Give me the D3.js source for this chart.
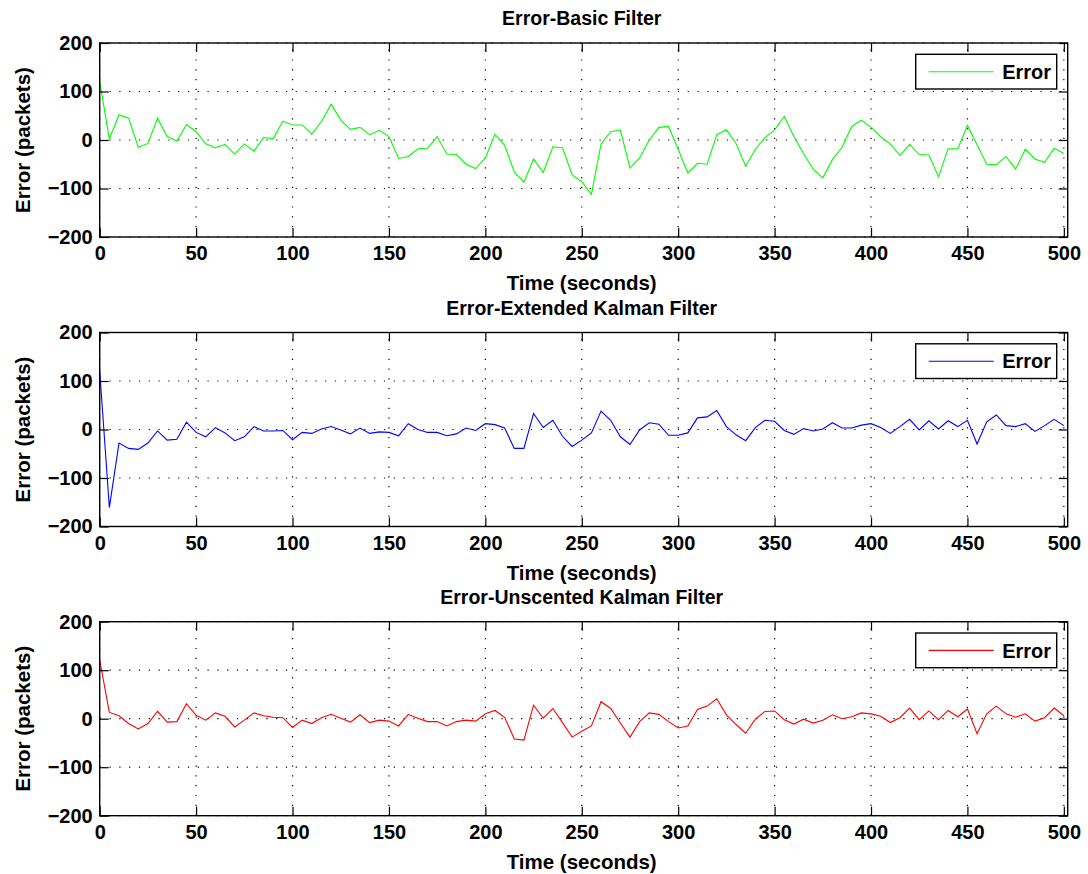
<!DOCTYPE html>
<html>
<head>
<meta charset="utf-8">
<script src="https://cdn.jsdelivr.net/npm/d3@7"></script>
<style>
  html, body { margin: 0; padding: 0; background: #ffffff; }
  svg { display: block; }
  text { font-family: "Liberation Sans", Arial, Helvetica, sans-serif; font-weight: bold; fill: #000; }
</style>
</head>
<body>
<svg id="fig" width="1088" height="874"></svg>
<script>
// Sample times (seconds)
const timeSec = [
  0, 5, 10, 15, 20, 25, 30, 35, 40, 45,
  50, 55, 60, 65, 70, 75, 80, 85, 90, 95,
  100, 105, 110, 115, 120, 125, 130, 135, 140, 145,
  150, 155, 160, 165, 170, 175, 180, 185, 190, 195,
  200, 205, 210, 215, 220, 225, 230, 235, 240, 245,
  250, 255, 260, 265, 270, 275, 280, 285, 290, 295,
  300, 305, 310, 315, 320, 325, 330, 335, 340, 345,
  350, 355, 360, 365, 370, 375, 380, 385, 390, 395,
  400, 405, 410, 415, 420, 425, 430, 435, 440, 445,
  450, 455, 460, 465, 470, 475, 480, 485, 490, 495,
  500
];

// Estimation error (packets) of each filter
const basicError = [
  121, 2, 52, 45, -15, -7, 45, 7, -2, 32,
  17, -8, -16, -9, -29, -8, -23, 5, 3, 39,
  31, 31, 12, 38, 74, 41, 22, 26, 11, 20,
  7, -38, -34, -18, -17, 7, -29, -30, -50, -59,
  -37, 12, -11, -66, -87, -39, -67, -14, -16, -72,
  -86, -112, -8, 17, 21, -58, -37, 0, 26, 28,
  -19, -68, -48, -50, 11, 21, -7, -54, -19, 5,
  21, 49, 7, -28, -60, -78, -40, -15, 28, 41,
  26, 7, -8, -32, -9, -30, -31, -76, -18, -18,
  30, -10, -50, -51, -34, -60, -19, -39, -46, -17,
  -28
];

const ekfError = [
  121, -161, -28, -39, -41, -28, -3, -22, -20, 15,
  -6, -15, 4, -7, -23, -15, 6, -3, -3, -2,
  -21, -6, -8, 1, 6, -1, -9, 3, -8, -5,
  -6, -13, 12, 0, -6, -6, -13, -9, 3, -2,
  12, 10, 3, -39, -39, 33, 4, 19, -14, -35,
  -22, -7, 38, 19, -15, -31, -1, 14, 11, -12,
  -12, -7, 24, 26, 39, 6, -11, -23, 4, 19,
  17, -2, -10, 2, -3, 1, 14, 3, 3, 9,
  12, 4, -8, 6, 21, -1, 18, 1, 18, 6,
  19, -30, 16, 30, 8, 6, 12, -4, 8, 21,
  8
];

const ukfError = [
  121, 13, 6, -10, -21, -10, 15, -7, -6, 31,
  7, -3, 12, 5, -17, -3, 12, 6, 3, 2,
  -18, -3, -10, 2, 9, 1, -7, 8, -8, -3,
  -5, -15, 9, 1, -6, -6, -15, -6, -3, -5,
  10, 17, 3, -42, -44, 28, 1, 21, -8, -38,
  -26, -15, 35, 21, -9, -38, -6, 12, 9, -6,
  -19, -15, 19, 26, 41, 8, -12, -30, -1, 15,
  16, -2, -11, -1, -9, -3, 8, 0, 4, 12,
  10, 5, -8, 2, 22, -2, 16, -2, 17, 4,
  20, -31, 10, 26, 10, 3, 10, -5, 2, 22,
  6
];

const xTicks = [0, 50, 100, 150, 200, 250, 300, 350, 400, 450, 500];
const yTicks = [-200, -100, 0, 100, 200];

const panelTitles = ["Error-Basic Filter", "Error-Extended Kalman Filter", "Error-Unscented Kalman Filter"];
const panelSeries = [basicError, ekfError, ukfError];
const lineColors = ["#00ff00", "#0000ff", "#ff0000"];
const legendLabel = "Error";
const xLabel = "Time (seconds)";
const yLabel = "Error (packets)";

// ---- layout ----
const svg = d3.select("#fig");
const plotLeft = 99.7, plotRight = 1067.7;
const plotTops = [43, 332.5, 621.7];
const plotH = 194;
const plotW = plotRight - plotLeft;
const tickLen = 9;
const tickFont = 20;
const labelFont = 20.5;
const titleFont = 19.5;

const x = d3.scaleLinear().domain([0, 502]).range([0, plotW]);
const y = d3.scaleLinear().domain([-200, 200]).range([plotH, 0]);

panelSeries.forEach((series, i) => {
  const g = svg.append("g").attr("transform", `translate(${plotLeft},${plotTops[i]})`);

  g.append("rect").attr("width", plotW).attr("height", plotH).attr("fill", "#fff");

  // dotted grid
  const grid = g.append("g").attr("stroke", "#000").attr("stroke-width", 1.2)
    .attr("stroke-dasharray", "1.2,8.6").attr("fill", "none");
  xTicks.forEach(t => {
    grid.append("line").attr("x1", x(t)).attr("x2", x(t)).attr("y1", plotH).attr("y2", 0);
  });
  yTicks.forEach(v => {
    grid.append("line").attr("x1", 0).attr("x2", plotW).attr("y1", y(v)).attr("y2", y(v));
  });

  // data line
  const clipId = "clip" + i;
  g.append("clipPath").attr("id", clipId).append("rect").attr("width", plotW).attr("height", plotH);
  const line = d3.line().x((d, k) => x(timeSec[k])).y(d => y(d));
  g.append("path").datum(series)
    .attr("clip-path", `url(#${clipId})`)
    .attr("fill", "none").attr("stroke", lineColors[i]).attr("stroke-width", 1.1)
    .attr("stroke-linejoin", "miter")
    .attr("d", line);

  // axes with inward ticks on all four sides
  const fmtY = d => d < 0 ? "\u2212" + Math.abs(d) : String(d);
  const axB = d3.axisBottom(x).tickValues(xTicks).tickSize(-tickLen).tickPadding(9).tickFormat(d3.format("d"));
  const axT = d3.axisTop(x).tickValues(xTicks).tickSize(-tickLen).tickFormat("");
  const axL = d3.axisLeft(y).tickValues(yTicks).tickSize(-tickLen).tickPadding(7).tickFormat(fmtY);
  const axR = d3.axisRight(y).tickValues(yTicks).tickSize(-tickLen).tickFormat("");

  const styleAxis = sel => {
    sel.select(".domain").remove();
    sel.selectAll(".tick line").attr("stroke", "#000").attr("stroke-width", 1.2);
    sel.selectAll(".tick text").attr("font-size", tickFont)
      .attr("font-family", "'Liberation Sans', Arial, sans-serif").attr("font-weight", "bold").attr("fill", "#000");
  };
  g.append("g").attr("transform", `translate(0,${plotH})`).call(axB).call(styleAxis);
  g.append("g").call(axT).call(styleAxis);
  g.append("g").call(axL).call(styleAxis);
  g.append("g").attr("transform", `translate(${plotW},0)`).call(axR).call(styleAxis);

  // axes box
  g.append("rect").attr("width", plotW).attr("height", plotH)
    .attr("fill", "none").attr("stroke", "#000").attr("stroke-width", 1.4);

  // title and axis labels
  g.append("text").attr("x", plotW / 2 - 2).attr("y", -18)
    .attr("text-anchor", "middle").attr("font-size", titleFont).text(panelTitles[i]);
  g.append("text").attr("x", plotW / 2 - 2).attr("y", plotH + 53)
    .attr("text-anchor", "middle").attr("font-size", labelFont).text(xLabel);
  g.append("text").attr("transform", `translate(-70,${plotH / 2}) rotate(-90)`)
    .attr("text-anchor", "middle").attr("font-size", labelFont).text(yLabel);

  // legend
  const lg = g.append("g").attr("transform", `translate(${plotW - 152},11.3)`);
  lg.append("rect").attr("width", 141).attr("height", 34.7)
    .attr("fill", "#fff").attr("stroke", "#000").attr("stroke-width", 1.4);
  lg.append("line").attr("x1", 13).attr("x2", 78).attr("y1", 17.4).attr("y2", 17.4)
    .attr("stroke", lineColors[i]).attr("stroke-width", 1.1);
  lg.append("text").attr("x", 86.5).attr("y", 24.5).attr("font-size", 20).text(legendLabel);
});
</script>
</body>
</html>
